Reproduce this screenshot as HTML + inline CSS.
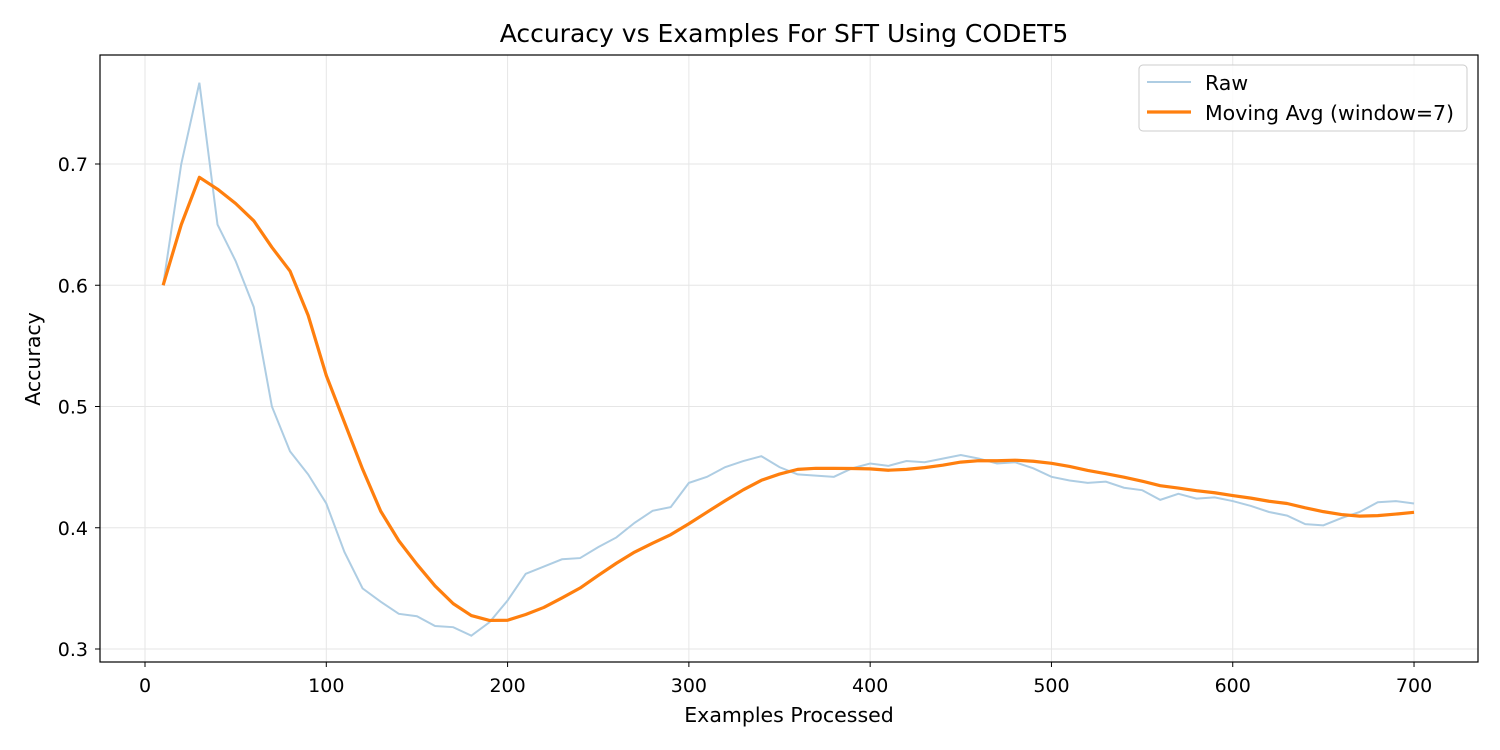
<!DOCTYPE html>
<html><head><meta charset="utf-8"><style>body{margin:0;background:#fff}svg{display:block}text{font-family:"DejaVu Sans","Liberation Sans",sans-serif;fill:#000}</style></head>
<body>
<svg id="s" width="1500" height="750" xmlns="http://www.w3.org/2000/svg">
<rect width="1500" height="750" fill="#fff"/>
<g id="grid" stroke="#e6e6e6" stroke-width="1"></g>
<text x="784" y="42" font-size="25" text-anchor="middle">Accuracy vs Examples For SFT Using CODET5</text>
<text x="789" y="722" font-size="20.5" text-anchor="middle">Examples Processed</text>
<text x="40" y="359" font-size="20.5" text-anchor="middle" transform="rotate(-90 40 359)">Accuracy</text>
<polyline id="raw" fill="none" stroke="#aecde3" stroke-width="2"/>
<polyline id="ma" fill="none" stroke="#ff7f0e" stroke-width="3.2" stroke-linejoin="round"/>
<rect x="100" y="55" width="1378" height="607" fill="none" stroke="#000" stroke-width="1.2"/>
<g id="ticks"></g>
<rect x="1139" y="65" width="328" height="66" rx="4" fill="#fff" fill-opacity="0.85" stroke="#ccc"/>
<line x1="1147" y1="82" x2="1191" y2="82" stroke="#aecde3" stroke-width="2"/>
<text x="1205" y="90" font-size="20.5">Raw</text>
<line x1="1147" y1="112" x2="1191" y2="112" stroke="#ff7f0e" stroke-width="3.2"/>
<text x="1205" y="120" font-size="20.5">Moving Avg (window=7)</text>
</svg>
<script>
var raw=[0.6,0.70,0.767,0.65,0.62,0.582,0.50,0.463,0.444,0.42,0.38,0.35,0.339,0.329,0.327,0.319,0.318,0.311,0.322,0.34,0.362,0.368,0.374,0.375,0.384,0.392,0.404,0.414,0.417,0.437,0.442,0.45,0.455,0.459,0.45,0.444,0.443,0.442,0.449,0.453,0.451,0.455,0.454,0.457,0.46,0.457,0.453,0.454,0.449,0.442,0.439,0.437,0.438,0.433,0.431,0.423,0.428,0.424,0.425,0.422,0.418,0.413,0.41,0.403,0.402,0.408,0.413,0.421,0.422,0.42];
function X(v){return 145+v*1.8129}function Y(v){return 649-(v-0.3)*1212.5}
var r=[],m=[];
for(var i=0;i<raw.length;i++){var x=X((i+1)*10);r.push(x+","+Y(raw[i]));
var s=0,n=0;for(var j=Math.max(0,i-6);j<=i;j++){s+=raw[j];n++}m.push(x+","+Y(s/n));}
document.getElementById("raw").setAttribute("points",r.join(" "));
document.getElementById("ma").setAttribute("points",m.join(" "));
var g="",t="";
for(var v=0;v<=700;v+=100){var x=X(v);g+='<line x1="'+x+'" y1="55" x2="'+x+'" y2="662"/>';
t+='<line x1="'+x+'" y1="662" x2="'+x+'" y2="667" stroke="#000"/><text x="'+x+'" y="692" font-size="19" text-anchor="middle">'+v+'</text>';}
for(var k=3;k<=7;k++){var y=Y(k/10);g+='<line x1="100" y1="'+y+'" x2="1478" y2="'+y+'"/>';
t+='<line x1="95" y1="'+y+'" x2="100" y2="'+y+'" stroke="#000"/><text x="88" y="'+(y+7)+'" font-size="19" text-anchor="end">0.'+k+'</text>';}
document.getElementById("grid").innerHTML=g;document.getElementById("ticks").innerHTML=t;
</script>
</body></html>
